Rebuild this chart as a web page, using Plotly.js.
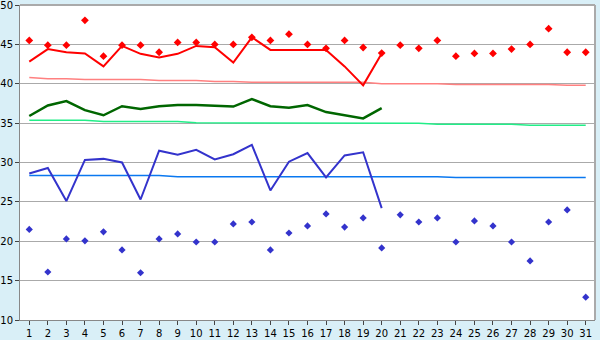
<!DOCTYPE html>
<html>
<head>
<meta charset="utf-8">
<script src="https://cdn.plot.ly/plotly-3.0.1.min.js"></script>
<style>html,body{margin:0;padding:0;background:#d9eff7;}#chart{width:600px;height:340px;}</style>
</head>
<body>
<div id="chart"></div>
<script>
const days = Array.from({length: 31}, (_, i) => i + 1);
const days20 = days.slice(0, 20);

const maxPoints = [45.5, 44.9, 44.9, 48.05, 43.5, 44.9, 44.9, 44.0, 45.25, 45.25,
  45.0, 45.0, 45.9, 45.5, 46.3, 45.0, 44.5, 45.5, 44.6, 43.9,
  44.9, 44.5, 45.5, 43.5, 43.85, 43.85, 44.4, 45.0, 47.0, 44.0, 44.0];
const maxLine = [42.8, 44.4, 44.0, 43.85, 42.2, 44.8, 43.8, 43.35, 43.8, 44.8,
  44.65, 42.7, 45.9, 44.3, 44.3, 44.3, 44.3, 42.2, 39.8, 43.85];
const maxNormal = [40.8, 40.65, 40.65, 40.55, 40.55, 40.55, 40.55, 40.4, 40.4, 40.4,
  40.3, 40.3, 40.2, 40.2, 40.2, 40.2, 40.2, 40.2, 40.2, 40.0,
  40.0, 40.0, 40.0, 39.9, 39.9, 39.9, 39.9, 39.9, 39.9, 39.8, 39.8];

const meanLine = [35.9, 37.25, 37.8, 36.65, 36.0, 37.15, 36.8, 37.15, 37.3, 37.3,
  37.2, 37.1, 38.05, 37.15, 36.95, 37.3, 36.4, 36.0, 35.6, 36.9];
const meanNormal = [35.35, 35.35, 35.35, 35.35, 35.2, 35.2, 35.2, 35.2, 35.2, 35.05,
  35.05, 35.05, 35.05, 34.97, 34.97, 34.97, 34.97, 34.97, 34.97, 34.97,
  34.97, 34.97, 34.85, 34.85, 34.85, 34.85, 34.85, 34.72, 34.72, 34.72, 34.72];

const minLine = [28.6, 29.3, 25.1, 30.33, 30.46, 30.0, 25.3, 31.5, 31.0, 31.6,
  30.4, 31.05, 32.25, 26.45, 30.1, 31.2, 28.1, 30.9, 31.3, 24.2];
const minNormal = [28.35, 28.35, 28.35, 28.35, 28.35, 28.35, 28.35, 28.35, 28.2, 28.2,
  28.2, 28.2, 28.2, 28.2, 28.2, 28.2, 28.2, 28.2, 28.2, 28.2,
  28.2, 28.2, 28.2, 28.1, 28.1, 28.1, 28.1, 28.1, 28.1, 28.1, 28.1];
const minPoints = [21.5, 16.1, 20.3, 20.05, 21.2, 18.9, 16.0, 20.3, 20.93, 19.9,
  19.9, 22.2, 22.45, 18.9, 21.05, 21.95, 23.47, 21.8, 22.96, 19.15,
  23.35, 22.45, 22.96, 19.9, 22.58, 21.95, 19.9, 17.5, 22.45, 23.98, 12.9];

const yTicks = [10, 15, 20, 25, 30, 35, 40, 45, 50];

const traces = [
  {x: days, y: maxNormal, mode: 'lines', line: {color: '#ff8080', width: 1.5}},
  {x: days, y: meanNormal, mode: 'lines', line: {color: '#22ee88', width: 1.5}},
  {x: days, y: minNormal, mode: 'lines', line: {color: '#0a78f0', width: 1.5}},
  {x: days20, y: maxLine, mode: 'lines', line: {color: '#ff0000', width: 2}},
  {x: days20, y: meanLine, mode: 'lines', line: {color: '#006600', width: 2.5}},
  {x: days20, y: minLine, mode: 'lines', line: {color: '#3333cc', width: 2}},
  {x: days, y: maxPoints, mode: 'markers', marker: {symbol: 'diamond', size: 6, color: '#ff0000'}},
  {x: days, y: minPoints, mode: 'markers', marker: {symbol: 'diamond', size: 5.5, color: '#3333cc'}}
];

const layout = {
  width: 600, height: 340,
  margin: {l: 20, r: 5, t: 5, b: 20, pad: 0},
  paper_bgcolor: '#d9eff7',
  plot_bgcolor: '#ffffff',
  showlegend: false,
  font: {family: 'DejaVu Sans, Verdana, sans-serif', size: 10, color: '#000000'},
  xaxis: {
    range: [0.5, 31.5], tickmode: 'array', tickvals: days, ticktext: days.map(String),
    showgrid: false, zeroline: false, showline: true, linecolor: '#888888', linewidth: 1,
    ticks: 'outside', ticklen: 4, tickcolor: '#444444', mirror: false,
    tickfont: {size: 10}, fixedrange: true, ticklabeloverflow: 'allow'
  },
  yaxis: {
    range: [10, 50], tickmode: 'array', tickvals: yTicks, ticktext: yTicks.map(String),
    showgrid: true, gridcolor: '#aaaaaa', gridwidth: 1, zeroline: false,
    showline: true, linecolor: '#888888', linewidth: 1,
    ticks: 'outside', ticklen: 4, tickcolor: '#444444',
    tickfont: {size: 10}, fixedrange: true, ticklabeloverflow: 'allow'
  },
  shapes: [
    {type: 'line', xref: 'paper', yref: 'paper', x0: 0, x1: 1, y0: 1, y1: 1, line: {color: '#aaaaaa', width: 2}},
    {type: 'line', xref: 'paper', yref: 'paper', x0: 1, x1: 1, y0: 0, y1: 1, line: {color: '#aaaaaa', width: 2}}
  ]
};

Plotly.newPlot('chart', traces, layout, {displayModeBar: false, staticPlot: true});
</script>
</body>
</html>
